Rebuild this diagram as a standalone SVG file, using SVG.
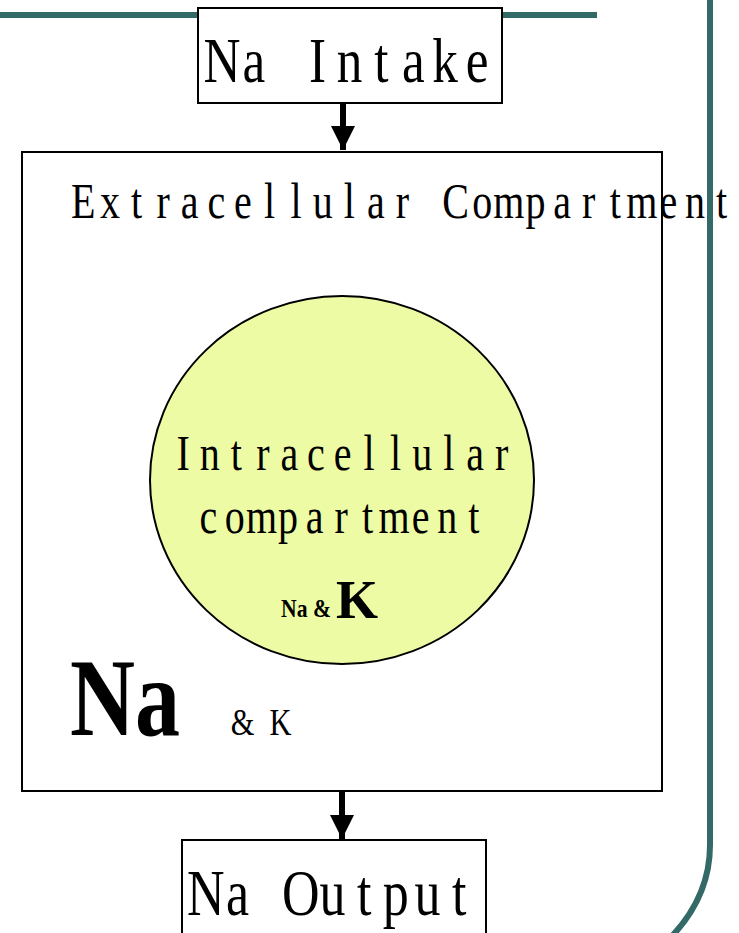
<svg xmlns="http://www.w3.org/2000/svg" width="739" height="933" viewBox="0 0 739 933">
<style>
.t{font-family:"Liberation Serif","DejaVu Serif",serif;fill:#000}
.m{font-family:"Liberation Serif","DejaVu Serif",serif;fill:#000;text-anchor:middle}
.box{fill:#fff;stroke:#000;stroke-width:2}
.deco{fill:none;stroke:#336a68;stroke-width:6}
.arr{stroke:#000;stroke-width:6;fill:none}
</style>
<defs>
<marker id="ah" markerWidth="4" markerHeight="4" refX="4" refY="2" orient="auto" markerUnits="strokeWidth">
<path d="M0,0 L4,2 L0,4 Z" fill="#000"/>
</marker>
</defs>
<g id="decoration">
<line class="deco" x1="0" y1="15" x2="597" y2="15"/>
<path class="deco" d="M710,0 L710,845 Q710,895 673,935"/>
</g>
<g id="connectors">
<line class="arr" x1="343" y1="103" x2="343" y2="150" marker-end="url(#ah)"/>
<line class="arr" x1="342" y1="792" x2="342" y2="839" marker-end="url(#ah)"/>
</g>
<g id="intake">
<rect class="box" x="198" y="8" width="304" height="95"/>
<text class="m" transform="scale(0.8,1)" x="277.4 317.3 357.1 397.0 436.8 476.7 516.6 556.4 596.3" y="82" font-size="64">Na Intake</text>
</g>
<g id="extracellular">
<rect class="box" x="22" y="152" width="640" height="639"/>
<text class="m" transform="scale(0.8,1)" x="104.1 137.4 170.6 203.9 237.1 270.4 303.6 336.9 370.1 403.4 436.6 469.9 503.1 536.4 569.6 602.9 636.1 669.4 702.6 735.9 769.1 802.4 835.6 868.9 902.1" y="218" font-size="50">Extracellular Compartment</text>
<text class="t" x="70" y="735" font-size="110" font-weight="bold" textLength="110" lengthAdjust="spacingAndGlyphs">Na</text>
<text class="m" transform="scale(0.8,1)" x="303.1 326.9 350.6" y="735" font-size="38">&amp; K</text>
</g>
<g id="intracellular">
<ellipse cx="342" cy="480" rx="192" ry="184" fill="#edfca4" stroke="#000" stroke-width="2"/>
<text class="m" transform="scale(0.8,1)" x="229.1 262.3 295.5 328.6 361.8 395.0 428.2 461.3 494.5 527.7 560.9 594.0 627.2" y="470" font-size="50">Intracellular</text>
<text class="m" transform="scale(0.8,1)" x="260.4 293.6 326.8 360.0 393.2 426.4 459.5 492.7 525.9 559.1 592.3" y="533" font-size="50">compartment</text>
<text class="t" x="281" y="617" font-size="25" font-weight="bold" textLength="50" lengthAdjust="spacingAndGlyphs">Na &amp;</text>
<text class="t" x="336" y="618" font-size="54" font-weight="bold" textLength="42" lengthAdjust="spacingAndGlyphs">K</text>
</g>
<g id="output">
<rect class="box" x="182" y="840" width="304" height="100"/>
<text class="m" transform="scale(0.8,1)" x="257.3 296.9 336.4 376.0 415.6 455.2 494.8 534.4 573.9" y="915" font-size="65">Na Output</text>
</g>
</svg>
